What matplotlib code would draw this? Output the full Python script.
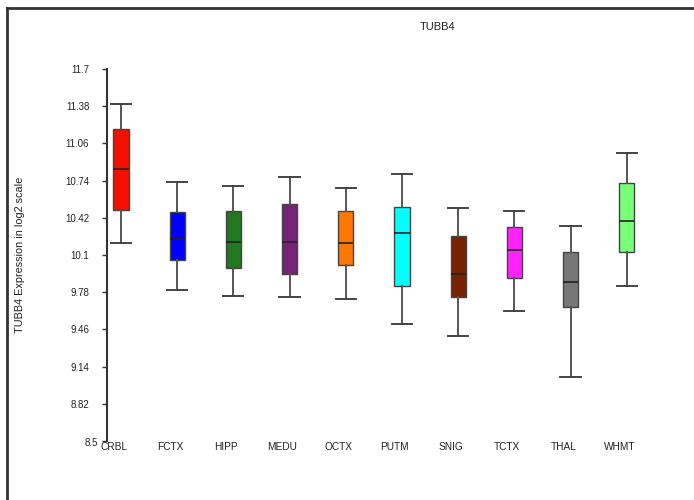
import matplotlib
matplotlib.use('Agg')
import matplotlib.pyplot as plt
from matplotlib.lines import Line2D
from matplotlib.transforms import ScaledTranslation

plt.rcParams['font.family'] = ['Liberation Sans', 'DejaVu Sans']

regions = ['CRBL', 'FCTX', 'HIPP', 'MEDU', 'OCTX', 'PUTM', 'SNIG', 'TCTX', 'THAL', 'WHMT']
whisker_low = [10.20, 9.80, 9.75, 9.74, 9.72, 9.51, 9.40, 9.62, 9.05, 9.83]
q1 = [10.49, 10.06, 9.99, 9.94, 10.01, 9.83, 9.74, 9.90, 9.65, 10.13]
median = [10.84, 10.24, 10.21, 10.21, 10.20, 10.29, 9.94, 10.14, 9.87, 10.39]
q3 = [11.18, 10.47, 10.48, 10.54, 10.48, 10.51, 10.26, 10.34, 10.13, 10.72]
whisker_high = [11.40, 10.73, 10.69, 10.77, 10.68, 10.80, 10.50, 10.48, 10.35, 10.98]
colors = ['#f21100', '#0000ff', '#217821', '#772277', '#ff7700',
          '#00ffff', '#772200', '#ff22ff', '#777777', '#77ff77']
yticks = [8.5, 8.82, 9.14, 9.46, 9.78, 10.1, 10.42, 10.74, 11.06, 11.38, 11.7]

fig = plt.figure(figsize=(6.94, 5.0), dpi=100)
ax = fig.add_axes([0.1537, 0.118, 0.826, 0.744])

stats = []
for i, name in enumerate(regions):
    stats.append({'label': name, 'whislo': whisker_low[i], 'q1': q1[i], 'med': median[i],
                  'q3': q3[i], 'whishi': whisker_high[i]})

pos = list(range(len(regions)))
bp = ax.bxp(stats, positions=pos, widths=0.27, patch_artist=True, showfliers=False,
            boxprops=dict(edgecolor='#444444', linewidth=1.0),
            medianprops=dict(color='#222222', linewidth=1.2),
            whiskerprops=dict(color='#555555', linewidth=1.4),
            capprops=dict(color='#444444', linewidth=1.4),
            capwidths=0.36)
for patch, c in zip(bp['boxes'], colors):
    patch.set_facecolor(c)

ax.set_xlim(-0.2545, 9.947)
ax.set_ylim(8.5, 11.7)
ax.set_yticks(yticks)
ax.set_yticklabels([f'{t:g}' for t in yticks], fontsize=7, color='#222222')
ax.set_xticks([p - 0.125 for p in pos])
ax.set_xticklabels(regions, fontsize=7.3, color='#222222')
ax.tick_params(axis='x', length=0, pad=1)
ax.tick_params(axis='y', length=3.5, width=1, color='#333333', pad=9)

for s in ['top', 'right', 'bottom']:
    ax.spines[s].set_visible(False)
ax.spines['left'].set_color('#333333')
ax.spines['left'].set_linewidth(1.5)

lbl = ax.get_yticklabels()[0]
lbl.set_transform(lbl.get_transform() + ScaledTranslation(0.09, -0.015, fig.dpi_scale_trans))

fig.text(0.631, 0.945, 'TUBB4', fontsize=8, ha='center', va='center', color='#222222')
fig.text(0.029, 0.49, 'TUBB4 Expression in log2 scale', fontsize=7.8, rotation=90,
         ha='center', va='center', color='#222222')

# frame around the figure (clipped at right and bottom like the source)
fig.add_artist(Line2D([0.0101, 1.0], [0.984, 0.984], color='#333333', linewidth=2))
fig.add_artist(Line2D([0.0101, 0.0101], [0.0, 0.984], color='#333333', linewidth=2))

fig.savefig('out.png', dpi=100)
